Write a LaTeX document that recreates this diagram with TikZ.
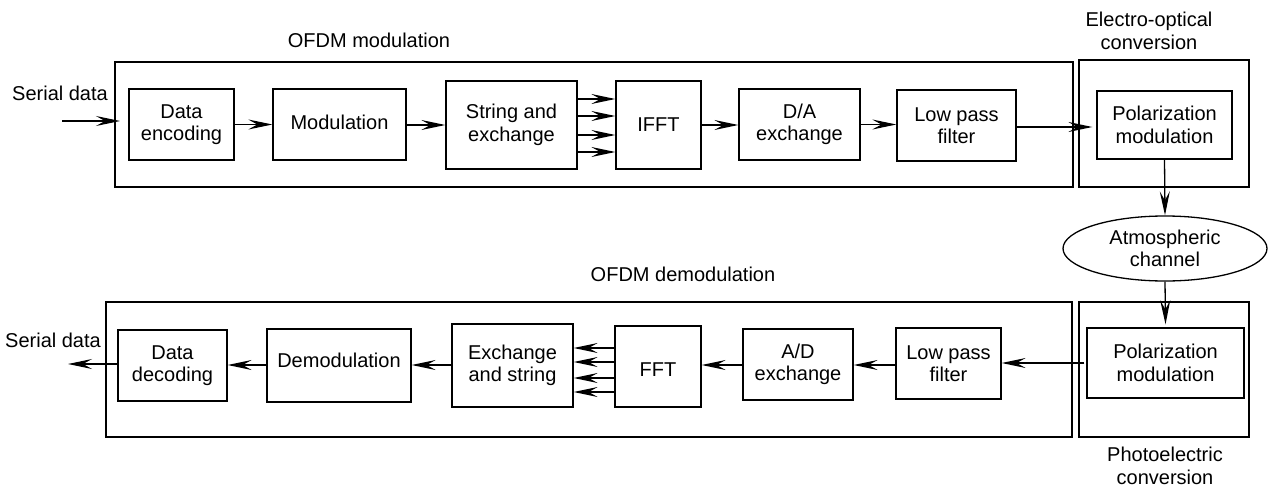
\documentclass[tikz,border=0pt]{standalone}
\usepackage{fontspec}
\setmainfont{Liberation Sans}
\usetikzlibrary{arrows.meta,shapes.geometric}
\begin{document}
\begin{tikzpicture}[x=1pt,y=-1pt,
  every node/.style={font=\fontsize{20}{22.5}\selectfont, align=center},
  blk/.style={draw, line width=1.3pt, inner sep=0pt},
  outer/.style={draw, line width=1.5pt, inner sep=0pt},
  arr/.style={-{Stealth[length=24pt,width=10pt,inset=9pt]}, line width=1.3pt}]
\useasboundingbox (0,0) rectangle (1268,487);
% outer boxes
\node[outer, minimum width=958, minimum height=125] (ofdm) at (594,124.5) {};
\node[outer, minimum width=170, minimum height=127] (eo) at (1164,123.5) {};
\node[outer, minimum width=170, minimum height=135] (pe) at (1164,369.5) {};
\node[outer, minimum width=966, minimum height=135] (dofdm) at (589,369.5) {};
% top row
\node[blk, minimum width=105, minimum height=71] (denc) at (181.5,124.5) {Data\\encoding};
\node[blk, minimum width=133, minimum height=71, text depth=5pt] (mod) at (339.5,124.5) {Modulation};
\node[blk, minimum width=131, minimum height=88] (str) at (511.5,125) {String and\\exchange};
\node[blk, minimum width=85, minimum height=88] (ifft) at (658.5,125) {IFFT};
\node[blk, minimum width=121, minimum height=71] (da) at (799.5,124.5) {D/A\\exchange};
\node[blk, minimum width=119, minimum height=71] (lpfa) at (956.5,125.5) {Low pass\\filter};
\node[blk, minimum width=135, minimum height=68] (pola) at (1164.5,125) {Polarization\\modulation};
% channel
\node[draw, ellipse, line width=1.3pt, inner sep=0pt, minimum width=204, minimum height=65] (atm) at (1165,248.5) {Atmospheric\\channel};
% bottom row
\node[blk, minimum width=157, minimum height=70] (polb) at (1165.5,363) {Polarization\\modulation};
\node[blk, minimum width=105, minimum height=71] (lpfb) at (948.5,363.5) {Low pass\\filter};
\node[blk, minimum width=110, minimum height=71] (ad) at (798,364.5) {A/D\\exchange};
\node[blk, minimum width=86, minimum height=81, text height=20.5pt] (fft) at (658,366.5) {FFT};
\node[blk, minimum width=121, minimum height=83] (exs) at (512.5,365.5) {Exchange\\and string};
\node[blk, minimum width=144, minimum height=73, text depth=10pt] (demod) at (339,365.5) {Demodulation};
\node[blk, minimum width=109, minimum height=71] (ddec) at (172.5,365.5) {Data\\decoding};
% labels
\node (lin) at (60,93) {Serial data};
\node (lout) at (53,340) {Serial data};
\node (lmod) at (369,40) {OFDM modulation};
\node (ldemod) at (683,274) {OFDM demodulation};
\node (leo) at (1149,31) {Electro-optical\\conversion};
\node (lpe) at (1165,466) {Photoelectric\\conversion};
% connectors
\coordinate (sin) at (62,121);
\coordinate (sinend) at (120,121);
\coordinate (sout) at (68,364);
\draw[arr] (sin) -- (sinend);
\draw[arr] (denc.east) -- (denc.east -| mod.west);
\draw[arr] (mod.east |- 0,125) -- (str.west |- 0,125);
\foreach \y in {99,116,135,152} \draw[arr] (str.east |- 0,\y) -- (ifft.west |- 0,\y);
\draw[arr] (ifft.east |- 0,125) -- (da.west |- 0,125);
\draw[arr] (da.east) -- (da.east -| lpfa.west);
\draw[arr] (lpfa.east |- 0,127) -- ([xshift=-4pt]pola.west |- 0,127);
\draw[arr] (pola.south) -- (atm.north);
\draw[arr] (atm.south) -- ([yshift=3pt]polb.north);
\draw[arr] ([xshift=-2pt]polb.west) -- (lpfb.east |- polb.west);
\draw[arr] (lpfb.west |- 0,365) -- (ad.east |- 0,365);
\draw[arr] (ad.west |- 0,365) -- (fft.east |- 0,365);
\foreach \y in {348,362,378,392} \draw[arr] (fft.west |- 0,\y) -- (exs.east |- 0,\y);
\draw[arr] (exs.west |- 0,365) -- (demod.east |- 0,365);
\draw[arr] (demod.west |- 0,365) -- (ddec.east |- 0,365);
\draw[arr] (ddec.west |- 0,364) -- (sout);
\end{tikzpicture}
\end{document}
